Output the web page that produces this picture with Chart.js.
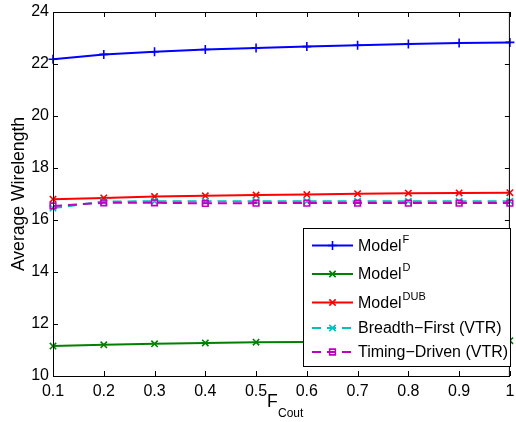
<!DOCTYPE html>
<html>
<head>
<meta charset="utf-8">
<script src="https://cdn.jsdelivr.net/npm/chart.js@4"></script>
<style>
    html, body { margin: 0; padding: 0; background: #fff; }
    #wrap { width: 516px; height: 422px; }
</style>
</head>
<body>
<div id="wrap"><canvas id="wlChart" width="516" height="422"></canvas></div>
<script>
// Data
const fCout = [0.1, 0.2, 0.3, 0.4, 0.5, 0.6, 0.7, 0.8, 0.9, 1.0];
const modelF = [22.18, 22.37, 22.47, 22.56, 22.62, 22.67, 22.72, 22.77, 22.81, 22.83];
const modelD = [11.15, 11.20, 11.24, 11.27, 11.30, 11.31, 11.32, 11.33, 11.35, 11.36];
const modelDUB = [16.80, 16.85, 16.90, 16.93, 16.96, 16.98, 17.01, 17.03, 17.04, 17.05];
const breadthFirst = [16.46, 16.71, 16.72, 16.72, 16.72, 16.72, 16.72, 16.72, 16.72, 16.72];
const timingDriven = [16.54, 16.66, 16.66, 16.64, 16.65, 16.65, 16.65, 16.65, 16.65, 16.65];

const yTicks = [10, 12, 14, 16, 18, 20, 22, 24];
const xTicks = [0.1, 0.2, 0.3, 0.4, 0.5, 0.6, 0.7, 0.8, 0.9, 1.0];

const legendNames = ['Model', 'Model', 'Model', 'Breadth\u2212First (VTR)', 'Timing\u2212Driven (VTR)'];
const legendSups = ['F', 'D', 'DUB', '', ''];

const FONT = "'Liberation Sans', Arial, Helvetica, sans-serif";

function pts(values) {
    return values.map((v, i) => ({ x: fCout[i], y: v }));
}

function fixedWidth(w) {
    return scale => {
        scale.width = w;
        scale.paddingTop = 0;
        scale.paddingBottom = 0;
    };
}

function fixedHeight(h) {
    return scale => {
        scale.height = h;
        scale.paddingLeft = 0;
        scale.paddingRight = 0;
    };
}

// box + inward tick marks, MATLAB style
const boxPlugin = {
    id: 'boxPlugin',
    afterDatasetsDraw(chart) {
        const { ctx, chartArea: a, scales } = chart;
        ctx.save();
        ctx.strokeStyle = '#000';
        ctx.lineWidth = 1;
        ctx.strokeRect(a.left + 0.5, a.top + 0.5, a.right - a.left - 1, a.bottom - a.top);
        ctx.beginPath();
        xTicks.forEach(t => {
            const x = Math.round(scales.x.getPixelForValue(t)) + 0.5;
            ctx.moveTo(x, a.bottom); ctx.lineTo(x, a.bottom - 5);
            ctx.moveTo(x, a.top); ctx.lineTo(x, a.top + 5);
        });
        yTicks.forEach(t => {
            const y = Math.round(scales.y.getPixelForValue(t)) + 0.5;
            ctx.moveTo(a.left, y); ctx.lineTo(a.left + 5, y);
            ctx.moveTo(a.right, y); ctx.lineTo(a.right - 5, y);
        });
        ctx.stroke();

        // x axis title: F with subscript Cout
        ctx.fillStyle = '#000';
        ctx.textBaseline = 'alphabetic';
        ctx.textAlign = 'left';
        ctx.font = '17.6px ' + FONT;
        ctx.fillText('F', 267, 407);
        ctx.font = '12px ' + FONT;
        ctx.fillText('Cout', 278, 417);
        ctx.restore();
    },
    afterDraw(chart) {
        const ctx = chart.ctx;
        const box = { left: 303, top: 228, right: 511, bottom: 367 };
        const rowY = [245.5, 274, 302.5, 328, 352];
        ctx.save();
        ctx.fillStyle = '#fff';
        ctx.fillRect(box.left, box.top, box.right - box.left, box.bottom - box.top);
        ctx.strokeStyle = '#000';
        ctx.lineWidth = 1;
        ctx.strokeRect(box.left + 0.5, box.top + 0.5, box.right - box.left - 1, box.bottom - box.top - 1);

        // datasets were added in plot order
        chart.data.datasets.forEach((ds, i) => {
            const y = rowY[i];
            ctx.save();
            ctx.strokeStyle = ds.borderColor;
            ctx.lineWidth = ds.borderWidth;
            ctx.setLineDash(ds.borderDash || []);
            ctx.beginPath();
            ctx.moveTo(312, y);
            ctx.lineTo(353, y);
            ctx.stroke();
            ctx.restore();

            ctx.save();
            ctx.strokeStyle = ds.borderColor;
            ctx.fillStyle = 'rgba(0,0,0,0)';
            ctx.lineWidth = ds.pointBorderWidth;
            Chart.helpers.drawPoint(ctx, {
                pointStyle: ds.pointStyle,
                radius: ds.pointRadius,
                borderWidth: ds.pointBorderWidth,
                rotation: 0
            }, 332.5, y);
            ctx.restore();

            ctx.fillStyle = '#000';
            ctx.textBaseline = 'middle';
            ctx.textAlign = 'left';
            ctx.font = '16px ' + FONT;
            ctx.fillText(legendNames[i], 358, y + 1);
            if (legendSups[i]) {
                const w = ctx.measureText(legendNames[i]).width;
                ctx.font = '11px ' + FONT;
                ctx.fillText(legendSups[i], 358 + w + 1, y - 6);
            }
        });
        ctx.restore();
    }
};

function makeSet(label, values, color, style, dashed, order) {
    return {
        label: label,
        data: pts(values),
        borderColor: color,
        backgroundColor: 'rgba(0,0,0,0)',
        borderWidth: 2,
        borderDash: dashed ? [9, 6] : [],
        pointStyle: style,
        pointRadius: style === 'rect' ? 4 : 4.5,
        pointBorderColor: color,
        pointBackgroundColor: 'rgba(0,0,0,0)',
        pointBorderWidth: 1.6,
        tension: 0,
        clip: false,
        order: order
    };
}

const ctx = document.getElementById('wlChart').getContext('2d');
const wlChart = new Chart(ctx, {
    type: 'line',
    data: {
        datasets: [
            makeSet('ModelF', modelF, '#0000ff', 'cross', false, 4),
            makeSet('ModelD', modelD, '#008000', 'crossRot', false, 3),
            makeSet('ModelDUB', modelDUB, '#ff0000', 'crossRot', false, 2),
            makeSet('Breadth-First (VTR)', breadthFirst, '#00bfbf', 'crossRot', true, 1),
            makeSet('Timing-Driven (VTR)', timingDriven, '#bf00bf', 'rect', true, 0)
        ]
    },
    options: {
        responsive: false,
        animation: false,
        devicePixelRatio: 1,
        layout: { padding: { top: 12, right: 1, left: 0, bottom: 0 } },
        plugins: {
            legend: { display: false },
            tooltip: { enabled: false }
        },
        scales: {
            x: {
                type: 'linear',
                min: 0.1,
                max: 1.0,
                afterBuildTicks: scale => { scale.ticks = xTicks.map(v => ({ value: v })); },
                afterFit: fixedHeight(46),
                grid: { display: false, drawTicks: false },
                border: { display: false },
                ticks: {
                    autoSkip: false,
                    maxRotation: 0,
                    padding: 6,
                    color: '#000',
                    font: { family: FONT, size: 16 },
                    callback: v => (Math.abs(v - 1) < 1e-9 ? '1' : v.toFixed(1))
                }
            },
            y: {
                min: 10,
                max: 24,
                afterBuildTicks: scale => { scale.ticks = yTicks.map(v => ({ value: v })); },
                afterFit: fixedWidth(53),
                grid: { display: false, drawTicks: false },
                border: { display: false },
                ticks: {
                    padding: 4,
                    color: '#000',
                    font: { family: FONT, size: 16 }
                },
                title: {
                    display: true,
                    text: 'Average Wirelength',
                    color: '#000',
                    font: { family: FONT, size: 17.6 },
                    padding: { top: 9, bottom: 0 }
                }
            }
        }
    },
    plugins: [boxPlugin]
});
</script>
</body>
</html>
